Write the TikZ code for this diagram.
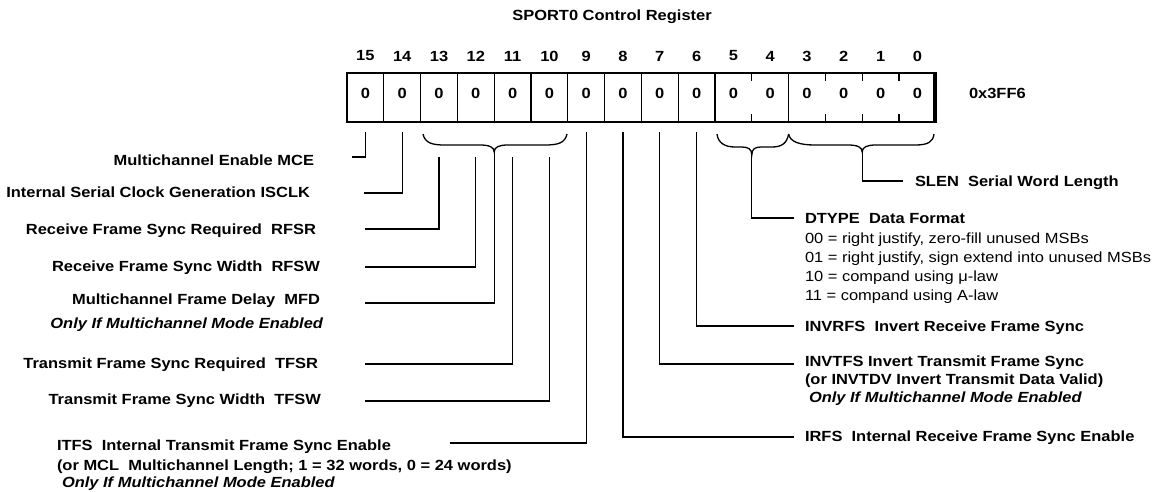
\documentclass[tikz,border=0pt]{standalone}
\usepackage{fontspec}
\setmainfont{Liberation Sans}[FakeStretch=1.12]
\begin{document}
\begin{tikzpicture}[x=1pt,y=-1pt,
  every node/.style={inner sep=0pt, outer sep=0pt},
  bt/.style={font=\bfseries\fontsize{14.7}{17}\selectfont},
  bit/.style={font=\bfseries\fontsize{14.7}{17}\selectfont},
  it/.style={font=\bfseries\itshape\fontsize{14.7}{17}\selectfont},
  rg/.style={font=\fontsize{14.7}{17}\selectfont},
  conn/.style={line width=1.3pt},
  regline/.style={line width=1.3pt},
  heavy/.style={line width=2.8pt},
  ]
\useasboundingbox (0,0) rectangle (1153,491);

% title
\node[bt] (title) at (612,17) {SPORT0 Control Register};

% register frame
\node[draw, regline, anchor=north west, minimum width=589pt, minimum height=49pt] (reg) at (347,73) {};
\draw[heavy] ([xshift=-1pt]reg.south west) -- ([xshift=-1.4pt]reg.south east);
\draw[heavy] ([xshift=-1.4pt]reg.north east) -- ([xshift=-1.4pt,yshift=1pt]reg.south east);

% full dividers
\foreach \j in {1,...,10,12} {
  \draw[regline] ({347+\j*36.8},73) -- ({347+\j*36.8},122);
}
% tick dividers
\foreach \j in {11,13,14,15} {
  \draw[regline] ({347+\j*36.8},73) -- ({347+\j*36.8},81);
  \draw[regline] ({347+\j*36.8},114) -- ({347+\j*36.8},122);
}

% bit numbers and values
\foreach \b in {0,...,15} {
  \pgfmathsetmacro\cx{365.4+(15-\b)*36.8}
  \node[bit] (n\b) at (\cx,56) {\b};
  \node[bit] (v\b) at (\cx,93) {0};
}
\node[bt, anchor=west] (addr) at (969,93) {0x3FF6};

% rows
\path (0,132) coordinate (rowA) (0,157) coordinate (rowB);

% braces
\draw[conn] (423,134) .. controls (425,143) and (432,145) .. (445,145) -- (480,145)
  .. controls (489,145) and (494.2,147) .. (494.2,152) coordinate (tipA)
  .. controls (494.2,147) and (499,145) .. (508,145) -- (545,145)
  .. controls (558,145) and (565,143) .. (567,134);
\draw[conn] (717,134) .. controls (718,143) and (725,147) .. (735,147) -- (742,147)
  .. controls (748,147) and (751.8,149) .. (751.8,155) coordinate (tipB)
  .. controls (751.8,149) and (755,147) .. (761,147) -- (772,147)
  .. controls (782,147) and (787,143) .. (788.6,134);
\draw[conn] (788.6,134) .. controls (790,142) and (800,145) .. (815,145) -- (848,145)
  .. controls (857,145) and (862.2,147) .. (862.2,152) coordinate (tipC)
  .. controls (862.2,147) and (867,145) .. (876,145) -- (915,145)
  .. controls (928,145) and (933,142) .. (934,134);

% left labels
\node[bt, anchor=base east] (mce) at (314,165) {Multichannel Enable MCE};
\node[bt, anchor=base east] (isclk) at (310,197) {Internal Serial Clock Generation ISCLK};
\node[bt, anchor=base east] (rfsr) at (316,234) {Receive Frame Sync Required~~RFSR};
\node[bt, anchor=base east] (rfsw) at (320,271) {Receive Frame Sync Width~~RFSW};
\node[bt, anchor=base east] (mfd) at (320,304) {Multichannel Frame Delay~~MFD};
\node[it, anchor=base east] (mfdn) at (323,328) {Only If Multichannel Mode Enabled};
\node[bt, anchor=base east] (tfsr) at (318,368) {Transmit Frame Sync Required~~TFSR};
\node[bt, anchor=base east] (tfsw) at (321,404) {Transmit Frame Sync Width~~TFSW};
\node[bt, anchor=base west] (itfs) at (57,450) {ITFS~~Internal Transmit Frame Sync Enable};
\node[bt, anchor=base west] (mcl) at (57,470) {(or MCL~~Multichannel Length; 1 = 32 words, 0 = 24 words)};
\node[it, anchor=base west] (itfsn) at (62,487) {Only If Multichannel Mode Enabled};

% right labels
\node[bt, anchor=base west] (slen) at (915,186) {SLEN~~Serial Word Length};
\node[bt, anchor=base west] (dtype) at (805,223) {DTYPE~~Data Format};
\node[rg, anchor=base west] (d0) at (805,243) {00 = right justify, zero-fill unused MSBs};
\node[rg, anchor=base west] (d1) at (805,262) {01 = right justify, sign extend into unused MSBs};
\node[rg, anchor=base west] (d2) at (805,281) {10 = compand using μ-law};
\node[rg, anchor=base west] (d3) at (805,300) {11 = compand using A-law};
\node[bt, anchor=base west] (invrfs) at (805,331) {INVRFS~~Invert Receive Frame Sync};
\node[bt, anchor=base west] (invtfs) at (805,366) {INVTFS Invert Transmit Frame Sync};
\node[bt, anchor=base west] (invtdv) at (805,384) {(or INVTDV Invert Transmit Data Valid)};
\node[it, anchor=base west] (invn) at (809,402) {Only If Multichannel Mode Enabled};
\node[bt, anchor=base west] (irfs) at (805,441) {IRFS~~Internal Receive Frame Sync Enable};

% connector free ends
\coordinate (e15) at (352,157);
\coordinate (e14) at (364,193);
\coordinate (e13) at (365,229);
\coordinate (e12) at (365,267);
\coordinate (eA)  at (365,303);
\coordinate (e11) at (365,364);
\coordinate (e10) at (365,401);
\coordinate (e9)  at (450,443);
\coordinate (e8)  at (794,437);
\coordinate (e7)  at (794,364);
\coordinate (e6)  at (794,326);
\coordinate (eB)  at (794,218);
\coordinate (eC)  at (903,181);

% connectors
\draw[conn] (v15 |- rowA) |- (e15);
\draw[conn] (v14 |- rowA) |- (e14);
\draw[conn] (v13 |- rowB) |- (e13);
\draw[conn] (v12 |- rowB) |- (e12);
\draw[conn] (tipA) |- (eA);
\draw[conn] (v11 |- rowB) |- (e11);
\draw[conn] (v10 |- rowB) |- (e10);
\draw[conn] (v9 |- rowA) |- (e9);
\draw[conn] (v8 |- rowA) |- (e8);
\draw[conn] (v7 |- rowA) |- (e7);
\draw[conn] (v6 |- rowA) |- (e6);
\draw[conn] (tipB) |- (eB);
\draw[conn] (tipC) |- (eC);
\end{tikzpicture}
\end{document}
